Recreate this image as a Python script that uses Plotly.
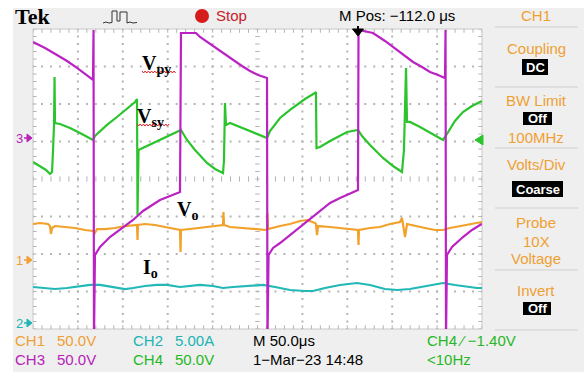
import plotly.graph_objects as go

# ---------------- data (time in us, values in channel units) ----------------
# CH3 (magenta) primary voltage Vpy, volts
t_ch3 = [0, 13.4, 26.7, 37.9, 49.0, 59.0, 66.8, 67.4, 67.9, 69.0, 74.6, 85.7, 99.1, 111.4,
         122.5, 132.5, 141.4, 152.6, 163.7, 164.8, 181.5, 186.0, 197.1, 210.5, 222.7, 232.7,
         241.7, 250.6, 260.6, 261.1, 262.3, 267.3, 275.1, 286.2, 294.0, 302.9, 311.8, 321.8,
         330.8, 341.9, 349.7, 361.9, 362.5, 378.6, 392.0, 405.4, 414.3, 423.2, 433.2, 442.1,
         451.0, 458.8, 459.4, 459.9, 461.0, 466.6, 478.8, 488.9, 497.8, 500.0]
v_ch3 = [129.3, 121.3, 112.0, 104.0, 94.7, 85.3, 78.7, 145.3, -270, -154.7, -144.0, -130.7,
         -118.7, -108.0, -96.0, -88.0, -81.3, -76.0, -70.7, 141.3, 141.3, 136.0, 126.7, 116.0,
         105.3, 97.3, 90.7, 85.3, 81.3, -270, -154.7, -145.3, -138.7, -128.0, -121.3, -112.0,
         -104.0, -93.3, -85.3, -78.7, -74.7, -68.0, 145.3, 141.3, 130.7, 118.7, 110.7, 102.7,
         96.0, 89.3, 85.3, 81.3, 145.3, -270, -154.7, -144.0, -130.7, -121.3, -114.7, -113.3]

# CH4 (green) secondary voltage Vsy, volts
t_ch4 = [0, 7.8, 14.5, 18.9, 21.2, 22.3, 23.4, 24.0, 24.5, 30.1, 41.2, 52.3, 61.2, 66.8, 69.0,
         74.6, 82.4, 93.5, 104.7, 113.6, 115.8, 116.4, 117.5, 124.7, 135.9, 147.0, 158.1, 164.8,
         171.5, 180.4, 193.8, 202.7, 211.6, 212.7, 213.8, 214.9, 219.4, 230.5, 241.7, 252.8,
         260.6, 263.9, 275.1, 286.2, 294.0, 302.9, 314.0, 315.1, 315.7, 319.6, 330.8, 341.9,
         349.7, 361.9, 366.4, 375.3, 389.8, 400.9, 410.9, 413.1, 415.4, 416.5, 419.8, 431.0,
         442.1, 456.6, 461.0, 469.9, 478.8, 488.9, 500.0]
v_ch4 = [-30.7, -36.0, -41.3, -46.7, -44.0, -14.7, 18.7, 82.7, 21.3, 20.0, 14.7, 8.0, 2.7, -1.3,
         4.0, 10.7, 18.7, 29.3, 40.0, 49.3, 53.3, -101.3, -14.7, -10.7, -4.0, 2.7, 8.0, 12.0,
         -1.3, -14.7, -32.0, -40.0, -45.3, -28.0, 48.0, 18.7, 21.3, 16.0, 10.7, 5.3, 1.3, 10.7,
         28.0, 38.7, 45.3, 53.3, 61.3, 62.7, -12.0, -10.7, -2.7, 4.0, 9.3, 12.0, 4.0, -8.0,
         -25.3, -36.0, -44.0, -14.7, 94.7, 22.7, 22.7, 16.0, 8.0, -1.3, 6.7, 24.0, 36.0, 44.0, 50.7]

# CH1 (orange) output voltage Vo, volts
t_ch1 = [0, 7.8, 16.7, 18.9, 20.0, 21.2, 24.5, 35.6, 46.8, 57.9, 66.8, 69.0, 71.3, 80.2, 91.3,
         102.5, 113.6, 115.8, 116.4, 116.9, 124.7, 135.9, 147.0, 158.1, 163.7, 164.3, 164.8,
         174.8, 186.0, 197.1, 208.2, 211.6, 212.1, 212.7, 219.4, 230.5, 241.7, 252.8, 260.6,
         261.1, 261.7, 275.1, 286.2, 297.3, 305.1, 314.0, 315.1, 316.3, 317.4, 330.8, 341.9,
         353.0, 361.9, 362.5, 363.0, 375.3, 386.4, 397.6, 408.7, 410.9, 414.3, 416.5, 425.4,
         436.5, 447.7, 456.6, 464.3, 475.5, 486.6, 494.4, 500.0]
v_ch1 = [48.0, 49.3, 48.0, 45.3, 34.7, 42.7, 45.3, 44.0, 42.7, 40.0, 38.7, 36.0, 41.3, 41.3, 42.7,
         45.3, 46.7, 46.7, 26.7, 46.7, 48.0, 46.7, 44.0, 41.3, 40.0, 10.7, 40.0, 41.3, 42.7, 44.0,
         45.3, 46.7, 64.0, 46.7, 44.0, 42.7, 41.3, 40.0, 40.0, 62.7, 41.3, 45.3, 48.0, 52.0, 53.3,
         49.3, 48.0, 33.3, 45.3, 44.0, 42.7, 41.3, 40.0, 20.0, 40.0, 42.7, 44.0, 48.0, 50.7, 56.0,
         30.7, 48.0, 45.3, 42.7, 40.0, 40.0, 42.7, 45.3, 48.0, 49.3, 50.7]

# CH2 (cyan) output current Io, amps
t_ch2 = [0, 13.4, 24.5, 37.9, 52.3, 63.5, 74.6, 88.0, 102.5, 111.4, 124.7, 138.1, 149.2, 163.7,
         174.8, 186.0, 200.4, 211.6, 222.7, 236.1, 247.2, 256.1, 269.5, 286.2, 302.9, 311.8,
         325.2, 341.9, 360.8, 375.3, 392.0, 405.4, 419.8, 436.5, 456.6, 469.9, 483.3, 494.4, 500.0]
i_ch2 = [4.80, 4.67, 4.53, 4.67, 4.93, 5.07, 5.07, 4.80, 4.53, 4.67, 4.93, 5.07, 5.07, 4.80,
         4.93, 5.07, 4.93, 4.67, 4.80, 4.93, 5.07, 5.07, 4.80, 4.40, 4.27, 4.27, 4.67, 5.07,
         5.33, 5.07, 4.53, 4.40, 4.53, 4.93, 5.33, 5.07, 4.80, 4.67, 4.67]

# channel settings: units per division and ground marker position (divisions)
scale = {"CH1": 50.0, "CH2": 5.0, "CH3": 50.0, "CH4": 50.0}
ground = {"CH1": -2.16, "CH2": -3.84, "CH3": 1.067, "CH4": 1.067}

labels = ["V<sub>py</sub>", "V<sub>sy</sub>", "V<sub>o</sub>", "I<sub>o</sub>"]

# ---------------- layout geometry ----------------
FW, FH = 584, 376
L, T, W, H = 33, 29, 449, 300
R, B = FW - L - W, FH - T - H


def px(x):
    return (x - L) / W


def py(y):
    return 1 - (y - T) / H


ORANGE = "#f2a12a"
CYAN = "#22b8b8"
MAGENTA = "#bb22c4"
GREEN = "#2cc42c"
TXT_OR = "#f0a032"
TXT_CY = "#20b4b4"
TXT_MG = "#b822b8"
TXT_GR = "#26b826"
GRID = "#b4b4b4"

fig = go.Figure()

# ---------------- graticule ----------------
gx, gy = [], []
for k in range(1, 10):
    if k == 5:
        continue
    for j in range(0, 41):
        gx.append(50 * k)
        gy.append(-4 + 0.2 * j)
for k in range(-3, 4):
    if k == 0:
        continue
    for j in range(0, 51):
        gx.append(10 * j)
        gy.append(k)
fig.add_trace(go.Scatter(x=gx, y=gy, mode="markers", hoverinfo="skip",
                         marker=dict(size=2, color=GRID, symbol="square", line=dict(width=0))))

tx, ty = [], []
for j in range(0, 41):
    yy = -4 + 0.2 * j
    tx += [247.5, 252.5, None, 0, 4, None, 496, 500, None]
    ty += [yy, yy, None, yy, yy, None, yy, yy, None]
for j in range(0, 51):
    xx = 10 * j
    tx += [xx, xx, None, xx, xx, None, xx, xx, None]
    ty += [-0.07, 0.07, None, 4, 3.9, None, -4, -3.9, None]
fig.add_trace(go.Scatter(x=tx, y=ty, mode="lines", hoverinfo="skip",
                         line=dict(color=GRID, width=1)))

# ---------------- waveforms ----------------
def scr(vals, ch):
    return [v / scale[ch] + ground[ch] for v in vals]


fig.add_trace(go.Scatter(x=t_ch2, y=scr(i_ch2, "CH2"), mode="lines", hoverinfo="skip",
                         line=dict(color=CYAN, width=2.2)))
fig.add_trace(go.Scatter(x=t_ch1, y=scr(v_ch1, "CH1"), mode="lines", hoverinfo="skip",
                         line=dict(color=ORANGE, width=2.2)))
fig.add_trace(go.Scatter(x=t_ch4, y=scr(v_ch4, "CH4"), mode="lines", hoverinfo="skip",
                         line=dict(color=GREEN, width=2.2)))
fig.add_trace(go.Scatter(x=t_ch3, y=scr(v_ch3, "CH3"), mode="lines", hoverinfo="skip",
                         line=dict(color=MAGENTA, width=2.2)))

# ---------------- shapes (screen furniture) ----------------
shapes = []


def rect(x0, y0, x1, y1, fill, line=None, layer="below"):
    shapes.append(dict(type="rect", xref="paper", yref="paper", x0=px(x0), x1=px(x1),
                       y0=py(y1), y1=py(y0), fillcolor=fill, layer=layer,
                       line=dict(width=0) if line is None else line))


def path(pts, color, width=1, fill=None, closed=False):
    s = "M " + " L ".join(f"{px(a):.5f},{py(b):.5f}" for a, b in pts)
    if closed:
        s += " Z"
    shapes.append(dict(type="path", xref="paper", yref="paper", path=s,
                       line=dict(color=color, width=width),
                       fillcolor=fill if fill else "rgba(0,0,0,0)", layer="above"))


rect(13, 8, 584, 372, "#efefef")
rect(L, T, L + W, T + H, "#ffffff", line=dict(color="#c8c8c8", width=1))

# right panel separators
for yy in [27, 87, 148, 208, 270, 330]:
    path([(495, yy), (578, yy)], "#cfcfcf", 1)

# black boxes
rect(522, 59, 548, 75, "#000000", layer="above")
rect(523, 112, 552, 125, "#000000", layer="above")
rect(512, 181, 563, 197, "#000000", layer="above")
rect(523, 302, 551, 315, "#000000", layer="above")

# stop indicator
shapes.append(dict(type="circle", xref="paper", yref="paper", x0=px(195), x1=px(209),
                   y0=py(23), y1=py(9), fillcolor="#d41c1c", line=dict(width=0)))
# acquisition icon
path([(103, 23), (106, 22), (109, 23), (112, 22.5), (112, 11), (117, 11), (117, 21), (120, 21),
      (120, 12), (127, 12), (127, 23), (130, 22), (133, 23), (137, 22.5)], "#333333", 1)
# trigger position marker
path([(358, 26), (358, 33)], "#000000", 2)
path([(352.5, 29), (363.5, 29), (358, 36)], "#000000", 1, fill="#000000", closed=True)
# trigger level marker
path([(483, 135), (475, 140), (483, 145)], GREEN, 1, fill=GREEN, closed=True)
# ground markers
for yy, c in [(138, TXT_MG), (260, TXT_OR), (323, TXT_CY)]:
    path([(24, yy), (28, yy)], c, 1.5)
    path([(27, yy - 4), (32, yy), (27, yy + 4)], c, 1, fill=c, closed=True)
# spell-check squiggles
for x0, x1, yy in [(142, 177, 72), (137, 170, 125)]:
    pts = []
    x = x0
    k = 0
    while x <= x1:
        pts.append((x, yy + (1 if k % 2 else -1)))
        x += 1.6
        k += 1
    path(pts, "#e02020", 1)

# ---------------- text ----------------
ann = []
SANS = "Liberation Sans, Arial, sans-serif"


def txt(x, y, s, color, size=15, anchor="left", family=SANS):
    ann.append(dict(xref="paper", yref="paper", x=px(x), y=py(y), text=s, showarrow=False,
                    xanchor=anchor, yanchor="middle",
                    font=dict(family=family, size=size, color=color)))


txt(13, 17, "<b>Tek</b>", "#000000", 22, family="Liberation Serif, Times New Roman, serif")
txt(214, 16, "Stop", "#c8202a", 15)
txt(337, 16, "M Pos: −112.0 μs", "#000000", 15)
txt(536, 16, "CH1", TXT_OR, 15, "center")

txt(536, 48, "Coupling", TXT_OR, 15, "center")
txt(535, 67, "<b>DC</b>", "#ffffff", 13, "center")
txt(536, 100, "BW Limit", TXT_OR, 15, "center")
txt(537.5, 118.5, "<b>Off</b>", "#ffffff", 13, "center")
txt(536, 137, "100MHz", TXT_OR, 15, "center")
txt(536, 164, "Volts/Div", TXT_OR, 15, "center")
txt(537.5, 189, "<b>Coarse</b>", "#ffffff", 13, "center")
txt(536, 222, "Probe", TXT_OR, 15, "center")
txt(536, 241, "10X", TXT_OR, 15, "center")
txt(536, 258, "Voltage", TXT_OR, 15, "center")
txt(536, 290, "Invert", TXT_OR, 15, "center")
txt(537, 308.5, "<b>Off</b>", "#ffffff", 13, "center")

txt(13, 340, "CH1", TXT_OR, 15)
txt(55, 340, "50.0V", TXT_OR, 15)
txt(131, 340, "CH2", TXT_CY, 15)
txt(173, 340, "5.00A", TXT_CY, 15)
txt(251, 340, "M 50.0μs", "#000000", 15)
txt(425, 340, "CH4 ⁄ −1.40V", TXT_GR, 15)
txt(13, 359, "CH3", TXT_MG, 15)
txt(55, 359, "50.0V", TXT_MG, 15)
txt(131, 359, "CH4", TXT_GR, 15)
txt(173, 359, "50.0V", TXT_GR, 15)
txt(251, 359, "1−Mar−23 14:48", "#000000", 15)
txt(425, 359, "&lt;10Hz", TXT_GR, 15)

txt(14, 138, "3", TXT_MG, 13)
txt(14, 260, "1", TXT_OR, 13)
txt(14, 323, "2", TXT_CY, 13)

SERIF = "Liberation Serif, Times New Roman, serif"
for (x, y), s in zip([(140, 64), (135, 117), (175, 210), (141, 268)], labels):
    txt(x, y, f"<b>{s}</b>", "#000000", 20, family=SERIF)

fig.update_layout(
    width=FW, height=FH, autosize=False,
    margin=dict(l=L, r=R, t=T, b=B, pad=0),
    paper_bgcolor="#ffffff", plot_bgcolor="#ffffff",
    showlegend=False,
    xaxis=dict(range=[0, 500], visible=False, fixedrange=True),
    yaxis=dict(range=[-4, 4], visible=False, fixedrange=True),
    shapes=shapes, annotations=ann,
)

fig.write_html("out.html", config={"displayModeBar": False},
               post_script="document.body.style.margin='0px';")
